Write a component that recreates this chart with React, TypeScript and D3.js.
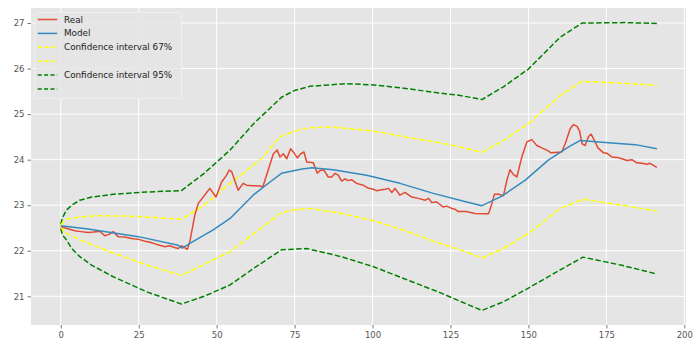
import { useRef, useEffect } from "react";
import * as d3 from "d3";

type Pt = [number, number];

// values: [step, value]
const realSeries: Pt[] = [
  [0, 22.53], [2, 22.49], [4.5, 22.44], [6.5, 22.42], [8.8, 22.4], [10.5, 22.41], [12.5, 22.43],
  [14.1, 22.33], [15.5, 22.36], [16.8, 22.42], [18.4, 22.31], [20.5, 22.3], [22.7, 22.27], [25, 22.25],
  [27, 22.21], [29, 22.18], [31.2, 22.13], [33.4, 22.09], [35, 22.11], [36.5, 22.07], [37.7, 22.05],
  [38.7, 22.11], [39.7, 22.07], [40.6, 22.03], [41.4, 22.2], [43, 22.78], [44.1, 23.04], [45.7, 23.18],
  [47.8, 23.37], [49.8, 23.18], [51.6, 23.51], [53.2, 23.66], [54, 23.77], [54.8, 23.74], [56.9, 23.33],
  [58.5, 23.48], [59.6, 23.44], [61.5, 23.43], [63.9, 23.42], [64.8, 23.4], [66, 23.66], [68.2, 24.13],
  [69.4, 24.21], [70.3, 24.06], [71.4, 24.13], [72.5, 24.02], [73.7, 24.24], [74.8, 24.15], [75.9, 24.04],
  [77, 24.13], [78, 24.17], [78.9, 23.95], [81, 23.93], [82.3, 23.7], [83.3, 23.77], [84.4, 23.77],
  [85.8, 23.62], [86.9, 23.62], [88, 23.7], [89, 23.66], [90.1, 23.53], [91.2, 23.58], [92.2, 23.54],
  [93.3, 23.56], [94.9, 23.48], [97, 23.44], [98.7, 23.37], [99.8, 23.36], [101.3, 23.32], [102.9, 23.34],
  [104, 23.35], [105.1, 23.37], [106.2, 23.28], [107.2, 23.37], [108.8, 23.22], [110.4, 23.28],
  [112.6, 23.18], [114.7, 23.15], [116.9, 23.11], [118, 23.15], [119, 23.06], [120.6, 23.07],
  [122.7, 22.96], [123.8, 22.98], [125.4, 22.93], [126.5, 22.91], [127.5, 22.86], [130, 22.86],
  [132.9, 22.82], [136.1, 22.81], [137.2, 22.81], [138, 22.97], [139.1, 23.24], [140.5, 23.24],
  [142, 23.21], [143.1, 23.55], [144.1, 23.78], [145.2, 23.67], [146.3, 23.62], [147.9, 24.06],
  [149.5, 24.39], [151.1, 24.44], [152.7, 24.31], [154.3, 24.26], [155.9, 24.21], [157.3, 24.15],
  [160.7, 24.17], [161.8, 24.35], [163.4, 24.68], [164.5, 24.77], [165.6, 24.73], [166.4, 24.63],
  [167.2, 24.35], [168.2, 24.31], [169.3, 24.51], [170.1, 24.56], [171.2, 24.42], [172.3, 24.26],
  [174.1, 24.15], [175.2, 24.14], [176.8, 24.06], [178.4, 24.05], [180, 24.02], [181.6, 23.98],
  [183.2, 24.0], [184.8, 23.93], [186.4, 23.92], [188, 23.9], [189, 23.92], [191.2, 23.83],
];

const modelSeries: Pt[] = [
  [0, 22.55], [8.8, 22.48], [24.9, 22.31], [37.7, 22.12], [39, 22.06], [41.4, 22.16], [48.9, 22.46],
  [54.3, 22.71], [61.7, 23.22], [67.1, 23.51], [70.8, 23.7], [77, 23.79], [80.5, 23.82], [87.4, 23.78],
  [98.1, 23.66], [108.8, 23.48], [119.5, 23.26], [130.2, 23.07], [135.1, 22.99], [141.5, 23.2],
  [149, 23.55], [156.4, 23.99], [162.9, 24.28], [166.5, 24.42], [175.7, 24.37], [184.3, 24.33],
  [191.2, 24.24],
];

const ci67Upper: Pt[] = [
  [0, 22.56], [1, 22.66], [2.9, 22.71], [6, 22.74], [11.4, 22.77], [22.2, 22.76], [30, 22.73],
  [38.7, 22.69], [46, 23.0], [54.3, 23.48], [63.9, 23.99], [70.3, 24.5], [75, 24.63], [79.9, 24.7],
  [86.4, 24.72], [100.3, 24.63], [112, 24.48], [121.7, 24.37], [128.1, 24.28], [135.1, 24.16],
  [142, 24.42], [150, 24.79], [160.2, 25.41], [167.2, 25.72], [180, 25.68], [191.2, 25.63],
];

const ci67Lower: Pt[] = [
  [0, 22.53], [1, 22.42], [6.1, 22.24], [16.8, 21.95], [27.5, 21.69], [38.7, 21.46], [46, 21.7],
  [54.3, 21.98], [62, 22.38], [70.8, 22.84], [75, 22.9], [79.9, 22.93], [90, 22.82], [100.3, 22.66],
  [110, 22.45], [121.7, 22.16], [128.1, 22.02], [135.1, 21.84], [142, 22.05], [150, 22.38],
  [160.2, 22.93], [167.5, 23.13], [180, 23.0], [191.2, 22.87],
];

const ci95Upper: Pt[] = [
  [0, 22.58], [0.5, 22.72], [1.8, 22.89], [3.5, 23.0], [6.1, 23.11], [10, 23.18], [16.8, 23.24],
  [27.5, 23.29], [38.7, 23.32], [46, 23.7], [54.3, 24.21], [62, 24.8], [70.8, 25.37], [75, 25.52],
  [79.9, 25.61], [91.7, 25.67], [100.3, 25.64], [110, 25.57], [121.7, 25.46], [128.1, 25.41],
  [135.1, 25.32], [142, 25.6], [150, 25.99], [160.2, 26.69], [167.2, 27.0], [181, 27.01], [191.2, 26.99],
];

const ci95Lower: Pt[] = [
  [0, 22.49], [0.5, 22.35], [1.8, 22.24], [3.5, 22.05], [6.1, 21.87], [10, 21.68], [16.8, 21.43],
  [27.5, 21.1], [38.7, 20.83], [46, 21.0], [54.3, 21.25], [62, 21.62], [70.8, 22.02], [78.9, 22.05],
  [90, 21.87], [100.3, 21.65], [110, 21.39], [121.7, 21.08], [128.1, 20.89], [135.1, 20.69],
  [142, 20.88], [150, 21.18], [160.2, 21.58], [167.5, 21.86], [180, 21.68], [191.2, 21.49],
];

const xTicks = [0, 25, 50, 75, 100, 125, 150, 175, 200];
const yTicks = [21, 22, 23, 24, 25, 26, 27];

const legendLabels = ["Real", "Model", "Confidence interval 67%", "", "Confidence interval 95%", ""];

export default function App() {
  const svgRef = useRef<SVGSVGElement>(null);

  useEffect(() => {
    document.body.style.margin = "0";
    const W = 693, H = 342;
    const margin = { top: 8, right: 7, bottom: 17, left: 31 };
    const svg = d3.select(svgRef.current);
    svg.selectAll("*").remove();
    svg.attr("width", W).attr("height", H);

    const font = "'DejaVu Sans', sans-serif";
    const x = d3.scaleLinear().domain([-9.55, 200.55]).range([margin.left, W - margin.right]);
    const y = d3.scaleLinear().domain([20.37, 27.33]).range([H - margin.bottom, margin.top]);

    // panel
    svg.append("rect")
      .attr("x", margin.left).attr("y", margin.top)
      .attr("width", W - margin.left - margin.right)
      .attr("height", H - margin.top - margin.bottom)
      .attr("fill", "#e5e5e5");

    // grid
    const grid = svg.append("g");
    grid.selectAll("line.gx").data(xTicks).join("line")
      .attr("x1", (d) => x(d)).attr("x2", (d) => x(d))
      .attr("y1", margin.top).attr("y2", H - margin.bottom)
      .attr("stroke", "#fff").attr("stroke-width", 1);
    grid.selectAll("line.gy").data(yTicks).join("line")
      .attr("x1", margin.left).attr("x2", W - margin.right)
      .attr("y1", (d) => y(d)).attr("y2", (d) => y(d))
      .attr("stroke", "#fff").attr("stroke-width", 1);

    // axes
    const xAxis = svg.append("g").attr("transform", `translate(0,${H - margin.bottom})`)
      .call(d3.axisBottom(x).tickValues(xTicks).tickFormat(d3.format("d")).tickSize(3.5).tickPadding(3));
    const yAxis = svg.append("g").attr("transform", `translate(${margin.left},0)`)
      .call(d3.axisLeft(y).tickValues(yTicks).tickFormat(d3.format("d")).tickSize(3.5).tickPadding(3));
    [xAxis, yAxis].forEach((a) => {
      a.select(".domain").remove();
      a.selectAll(".tick line").attr("stroke", "#555").attr("stroke-width", 0.8);
      a.selectAll("text").attr("fill", "#555").attr("font-size", "8.5px").attr("font-family", font);
    });

    const line = d3.line<Pt>().x((d) => x(d[0])).y((d) => y(d[1]));
    const dash = "5.5,2.4";

    const series = [
      { data: ci95Upper, color: "green", dash },
      { data: ci95Lower, color: "green", dash },
      { data: ci67Upper, color: "yellow", dash },
      { data: ci67Lower, color: "yellow", dash },
      { data: realSeries, color: "#E24A33", dash: null },
      { data: modelSeries, color: "#348ABD", dash: null },
    ];
    series.forEach((s) => {
      const p = svg.append("path").datum(s.data)
        .attr("d", line)
        .attr("fill", "none")
        .attr("stroke", s.color)
        .attr("stroke-width", 1.5)
        .attr("stroke-linejoin", "round");
      if (s.dash) p.attr("stroke-dasharray", s.dash);
    });

    // legend
    const legendItems = [
      { color: "#E24A33", dash: null },
      { color: "#348ABD", dash: null },
      { color: "yellow", dash: "4,2.4" },
      { color: "yellow", dash: "4,2.4" },
      { color: "green", dash: "4,2.4" },
      { color: "green", dash: "4,2.4" },
    ];
    const lg = svg.append("g").attr("transform", "translate(35,12.5)");
    lg.append("rect")
      .attr("width", 146.5).attr("height", 86)
      .attr("rx", 2)
      .attr("fill", "#e5e5e5").attr("fill-opacity", 0.85)
      .attr("stroke", "#efefef").attr("stroke-width", 1);
    legendItems.forEach((d, i) => {
      const yy = 7 + i * 13.9;
      lg.append("line")
        .attr("x1", 2.7).attr("x2", 22.3).attr("y1", yy).attr("y2", yy)
        .attr("stroke", d.color).attr("stroke-width", 1.5)
        .attr("stroke-dasharray", d.dash);
      lg.append("text")
        .attr("x", 29).attr("y", yy).attr("dy", "0.35em")
        .attr("fill", "#222").attr("font-size", "8.8px").attr("font-family", font)
        .text(legendLabels[i]);
    });
  }, []);

  return <svg ref={svgRef} style={{ display: "block" }}></svg>;
}
